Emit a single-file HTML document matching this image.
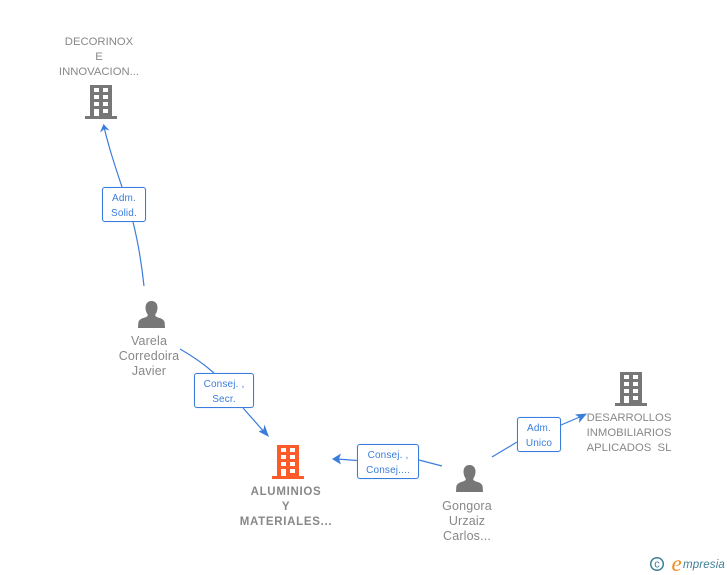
<!DOCTYPE html>
<html>
<head>
<meta charset="utf-8">
<style>
html,body{margin:0;padding:0;background:#fff}
#c{position:relative;width:728px;height:575px;overflow:hidden;background:#fff;font-family:"Liberation Sans",sans-serif}
.l{position:absolute;text-align:center;font-size:11.3px;line-height:15px;color:#888;white-space:nowrap;letter-spacing:0;transform:translateX(-50%)}
.b{font-size:11.5px;font-weight:bold;letter-spacing:.7px}
.p{font-size:12.5px;letter-spacing:.15px}
.e{position:absolute;box-sizing:border-box;background:#fff;border:1px solid #3b7ddd;border-radius:3px;color:#3b7ddd;font-size:10px;line-height:15px;text-align:center;padding-top:2.5px;white-space:nowrap;letter-spacing:.15px;box-shadow:0 0 1px #9cc0f0}
svg{position:absolute;left:0;top:0}
</style>
</head>
<body>
<div id="c">
<svg width="728" height="575" viewBox="0 0 728 575">
<defs>
<g id="bld">
<rect x="5" y="0" width="22" height="32"/>
<rect x="0" y="31" width="32" height="3"/>
<g fill="#fff">
<rect x="9" y="3" width="5" height="4"/><rect x="18" y="3" width="5" height="4"/>
<rect x="9" y="10" width="5" height="4"/><rect x="18" y="10" width="5" height="4"/>
<rect x="9" y="17" width="5" height="4"/><rect x="18" y="17" width="5" height="4"/>
<rect x="9" y="24" width="5" height="7"/><rect x="18" y="24" width="5" height="4"/>
</g>
</g>
<path id="per" d="M13.500 0C9.500 0 7.500 3 7.500 6.500c0 3.200 1.200 5.700 2.200 7v1.200c-.5 1-2.700 1.700-5.200 2.600C2 18.300.5 19.700.3 22L0 27h27l-.3-5c-.2-2.300-1.700-3.700-4.200-4.700-2.500-.9-4.700-1.600-5.200-2.600v-1.200c1-1.300 2.200-3.800 2.200-7C19.500 3 17.500 0 13.500 0z"/>
</defs>

<use href="#bld" x="85" y="85" fill="#777"/>
<use href="#bld" x="615" y="372" fill="#777"/>
<use href="#bld" x="272" y="445" fill="#ff5a2a"/>
<use href="#per" x="138" y="301" fill="#777"/>
<use href="#per" x="456" y="465" fill="#777"/>

<g fill="none" stroke="#3b7ddd" stroke-width="1.200">
<path d="M144 286C141 258 137 238 133 222"/>
<path d="M122 187C115 166 109 148 104 127"/>
<path d="M180 349C194 357 205 365 214 373"/>
<path d="M243 408L266 434"/>
<path d="M442 466L419 460"/>
<path d="M357 460.500C350 460 344 459.500 337 459"/>
<path d="M492 457L517 442"/>
<path d="M561 425L582 416"/>
</g>
<g fill="#3b7ddd">
<path d="M103.500 124L109.500 130.500L104.500 129L100 132.500z"/>
<path d="M269 437L258.500 431.500L263.500 429.500L264.500 424.500z"/>
<path d="M332 459L341 453.500L339 459L341 464.500z"/>
<path d="M587 413.500L579 423L579.500 417.500L575 414.500z"/>
</g>
</svg>

<div class="l" style="left:99px;top:35px">DECORINOX<br>E<br>INNOVACION...</div>
<div class="l p" style="left:149px;top:334px">Varela<br>Corredoira<br>Javier</div>
<div class="l" style="left:629px;top:411px">DESARROLLOS<br>INMOBILIARIOS<br>APLICADOS&nbsp; SL</div>
<div class="l b" style="left:286px;top:485px">ALUMINIOS<br>Y<br>MATERIALES...</div>
<div class="l p" style="left:467px;top:499px">Gongora<br>Urzaiz<br>Carlos...</div>

<div class="e" style="left:102px;top:187px;width:44px;height:35px">Adm.<br>Solid.</div>
<div class="e" style="left:194px;top:373px;width:60px;height:35px">Consej. ,<br>Secr.</div>
<div class="e" style="left:357px;top:444px;width:62px;height:35px">Consej. ,<br>Consej....</div>
<div class="e" style="left:517px;top:417px;width:44px;height:35px">Adm.<br>Unico</div>

<svg width="728" height="575" viewBox="0 0 728 575">
<circle cx="657" cy="564" r="6.300" fill="none" stroke="#3f7f96" stroke-width="1.500"/>
<text x="657" y="567.500" font-size="11" text-anchor="middle" fill="#3f7f96" font-family="Liberation Sans, sans-serif">c</text>
<text x="671.500" y="571" font-size="23" font-style="italic" fill="#f28c1e" font-family="Liberation Serif, serif">e</text>
<text x="683" y="568" font-size="11.500" font-style="italic" fill="#3f7f96" font-family="Liberation Sans, sans-serif" letter-spacing=".15">mpresia</text>
</svg>
</div>
</body>
</html>
